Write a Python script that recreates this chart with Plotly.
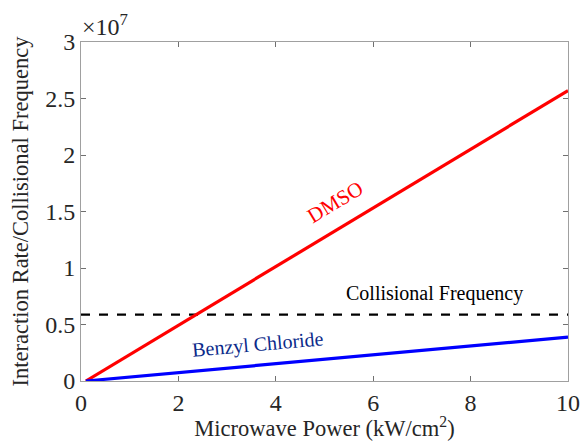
import plotly.graph_objects as go

power = [0.1, 10]
dmso = [0.0, 2.57e7]
benzyl = [0.0, 3.88e6]
collision_x = [0, 10]
collision = [5.88e6, 5.88e6]
x_ticks = [0, 2, 4, 6, 8, 10]
y_ticks = [0, 0.5e7, 1e7, 1.5e7, 2e7, 2.5e7, 3e7]
y_ticktext = ["0", "0.5", "1", "1.5", "2", "2.5", "3"]

font = "Liberation Serif, Times New Roman, serif"
fig = go.Figure()
fig.add_trace(go.Scatter(x=collision_x, y=collision, mode="lines",
                         line=dict(color="black", width=2.2, dash="dash")))
fig.add_trace(go.Scatter(x=power, y=dmso, mode="lines",
                         line=dict(color="#ff0000", width=3.2)))
fig.add_trace(go.Scatter(x=power, y=benzyl, mode="lines",
                         line=dict(color="#0000ff", width=3.2)))

fig.add_annotation(x=5.22, y=1.58e7, text="DMSO", showarrow=False, textangle=-31,
                   font=dict(family=font, size=21, color="#ff0000"))
fig.add_annotation(x=3.63, y=3.2e6, text="Benzyl Chloride", showarrow=False, textangle=-5,
                   font=dict(family=font, size=20, color="#0a2a8a"))
fig.add_annotation(x=7.25, y=7.7e6, text="Collisional Frequency", showarrow=False,
                   font=dict(family=font, size=20, color="black"))
fig.add_annotation(xref="paper", yref="paper", x=-0.002, y=1.0, xanchor="left", yanchor="bottom",
                   text="×10<sup>7</sup>", showarrow=False,
                   font=dict(family=font, size=24, color="#262626"))

axis_common = dict(showline=True, linecolor="#a0a0a0", linewidth=1, mirror="ticks",
                   ticks="inside", ticklen=5, tickcolor="#707070", showgrid=False,
                   zeroline=False, tickfont=dict(family=font, size=24, color="#262626"))
fig.update_xaxes(range=[0, 10], tickvals=x_ticks,
                 title=dict(text="Microwave Power (kW/cm<sup>2</sup>)",
                            font=dict(family=font, size=22.5, color="#262626"), standoff=0),
                 **axis_common)
fig.update_yaxes(range=[0, 3e7], tickvals=y_ticks, ticktext=y_ticktext,
                 title=dict(text="Interaction Rate/Collisional Frequency",
                            font=dict(family=font, size=22.5, color="#262626"), standoff=10),
                 **axis_common)
fig.update_layout(width=581, height=441, showlegend=False,
                  margin=dict(l=81, r=13, t=42, b=60, autoexpand=False),
                  plot_bgcolor="white", paper_bgcolor="white")
fig.write_html("out.html", config={"displayModeBar": False},
               post_script="document.body.style.margin='0';document.body.style.overflow='hidden';")
